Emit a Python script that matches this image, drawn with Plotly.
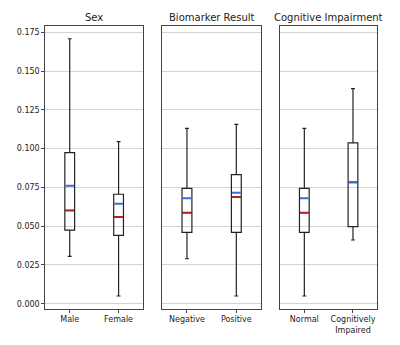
import plotly.graph_objects as go

# ---- data ----
panel_titles = ["Sex", "Biomarker Result", "Cognitive Impairment"]
categories = [["Male", "Female"], ["Negative", "Positive"], ["Normal", "Cognitively<br>Impaired"]]
upper_whisker = [[0.1709, 0.1045], [0.1131, 0.1157], [0.1131, 0.1387]]
q3_values = [[0.0974, 0.0706], [0.0744, 0.0832], [0.0744, 0.1038]]
mean_values = [[0.0761, 0.0645], [0.0680, 0.0716], [0.0680, 0.0783]]
median_values = [[0.0602, 0.0559], [0.0587, 0.0688], [0.0587, 0.0783]]
q1_values = [[0.0475, 0.0441], [0.0460, 0.0460], [0.0460, 0.0497]]
lower_whisker = [[0.0306, 0.0050], [0.0290, 0.0050], [0.0050, 0.0411]]
y_ticks = [0.000, 0.025, 0.050, 0.075, 0.100, 0.125, 0.150, 0.175]

positions = [1, 2]
box_width = 0.2
FONT = "DejaVu Sans"
MEDIAN_COLOR = "#b22222"
MEAN_COLOR = "#4169e1"

# page body has an 8px margin; figure sized to fit inside the window
W, H = 384, 329
def fx(px):
    return (px - 8) / W
def fy(py):
    return 1 - (py - 8) / H

x_domains = [[fx(45.3), fx(143.0)], [fx(162.3), fx(261.0)], [fx(280.0), fx(377.3)]]
y_domain = [fy(308.7), fy(25.7)]

fig = go.Figure()

for i in range(3):
    xa = "x" if i == 0 else f"x{i+1}"
    ya = "y" if i == 0 else f"y{i+1}"
    for j, pos in enumerate(positions):
        fig.add_trace(go.Box(
            x=[pos], q1=[q1_values[i][j]], median=[median_values[i][j]], q3=[q3_values[i][j]],
            lowerfence=[lower_whisker[i][j]], upperfence=[upper_whisker[i][j]],
            width=box_width, whiskerwidth=0.4, boxpoints=False,
            fillcolor="rgba(0,0,0,0)", line=dict(color="#222222", width=1.2),
            xaxis=xa, yaxis=ya, showlegend=False, hoverinfo="skip"))
        half = box_width / 2
        fig.add_trace(go.Scatter(
            x=[pos - half + 0.01, pos + half - 0.01], y=[median_values[i][j]] * 2,
            mode="lines", line=dict(color=MEDIAN_COLOR, width=2),
            xaxis=xa, yaxis=ya, showlegend=False, hoverinfo="skip"))
        fig.add_trace(go.Scatter(
            x=[pos - half + 0.01, pos + half - 0.01], y=[mean_values[i][j]] * 2,
            mode="lines", line=dict(color=MEAN_COLOR, width=2),
            xaxis=xa, yaxis=ya, showlegend=False, hoverinfo="skip"))

layout = dict(
    width=W, height=H,
    margin=dict(l=0, r=0, t=0, b=0),
    paper_bgcolor="white", plot_bgcolor="white",
    font=dict(family=FONT, size=8, color="#222222"),
    annotations=[],
)

for i in range(3):
    key = "" if i == 0 else str(i + 1)
    layout[f"xaxis{key}"] = dict(
        domain=x_domains[i], range=[0.5, 2.5], tickmode="array",
        tickvals=positions, ticktext=categories[i],
        showgrid=False, zeroline=False,
        showline=True, mirror=True, linecolor="#444444", linewidth=1,
        ticks="outside", ticklen=3, tickcolor="#444444",
        tickfont=dict(family=FONT, size=8, color="#222222"),
        anchor="y" if i == 0 else f"y{i+1}",
    )
    layout[f"yaxis{key}"] = dict(
        domain=y_domain, range=[-0.0032, 0.1793],
        tickmode="array", tickvals=y_ticks,
        ticktext=[f"{v:.3f}" for v in y_ticks] if i == 0 else [""] * len(y_ticks),
        showticklabels=(i == 0),
        showgrid=True, gridcolor="#d3d3d3", gridwidth=1, zeroline=False,
        showline=True, mirror=True, linecolor="#444444", linewidth=1,
        ticks="outside" if i == 0 else "", ticklen=3, tickcolor="#444444",
        tickfont=dict(family=FONT, size=8, color="#222222"),
        anchor="x" if i == 0 else f"x{i+1}",
    )
    layout["annotations"].append(dict(
        text=panel_titles[i], xref="paper", yref="paper",
        x=(x_domains[i][0] + x_domains[i][1]) / 2, y=y_domain[1],
        xanchor="center", yanchor="bottom", yshift=1, showarrow=False,
        font=dict(family=FONT, size=10, color="#222222"),
    ))

fig.update_layout(**layout)
fig.write_html("out.html")
